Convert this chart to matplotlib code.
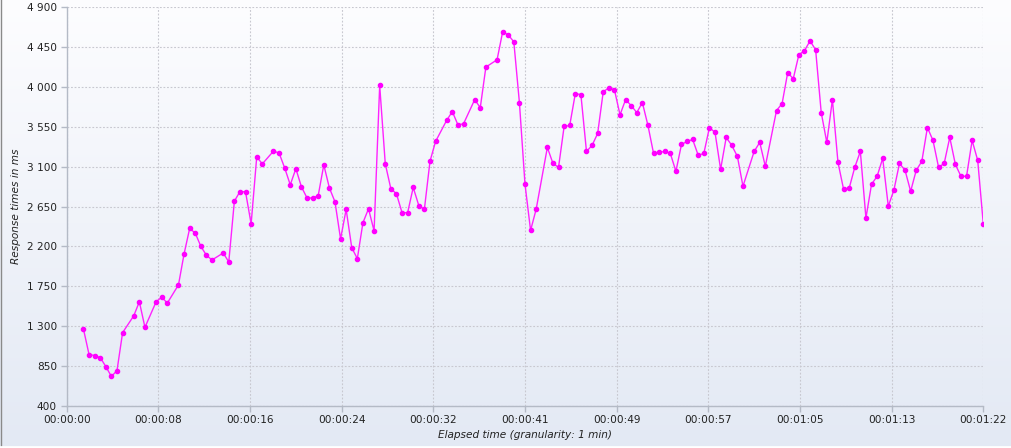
import numpy as np
import matplotlib
matplotlib.use("Agg")
import matplotlib.pyplot as plt
from matplotlib.ticker import FuncFormatter

# elapsed time (s) and response times (ms)
elapsed_s = [
    1.5, 2.0, 2.5, 3.0, 3.5, 4.0, 4.5, 5.0, 6.0, 6.5, 7.0, 8.0, 8.5, 9.0,
    10.0, 10.5, 11.0, 11.5, 12.0, 12.5, 13.0, 14.0, 14.5, 15.0, 15.5, 16.0,
    16.5, 17.0, 17.5, 18.5, 19.0, 19.5, 20.0, 20.5, 21.0, 21.5, 22.0, 22.5,
    23.0, 23.5, 24.0, 24.5, 25.0, 25.5, 26.0, 26.5, 27.0, 27.5, 28.0, 28.5,
    29.0, 29.5, 30.0, 30.5, 31.0, 31.5, 32.0, 32.5, 33.0, 34.0, 34.5, 35.0,
    35.5, 36.5, 37.0, 37.5, 38.5, 39.0, 39.5, 40.0, 40.5, 41.0, 41.5, 42.0,
    43.0, 43.5, 44.0, 44.5, 45.0, 45.5, 46.0, 46.5, 47.0, 47.5, 48.0, 48.5,
    49.0, 49.5, 50.0, 50.5, 51.0, 51.5, 52.0, 52.5, 53.0, 53.5, 54.0, 54.5,
    55.0, 55.5, 56.0, 56.5, 57.0, 57.5, 58.0, 58.5, 59.0, 59.5, 60.0, 60.5,
    61.5, 62.0, 62.5, 63.5, 64.0, 64.5, 65.0, 65.5, 66.0, 66.5, 67.0, 67.5,
    68.0, 68.5, 69.0, 69.5, 70.0, 70.5, 71.0, 71.5, 72.0, 72.5, 73.0, 73.5,
    74.0, 74.5, 75.0, 75.5, 76.0, 76.5, 77.0, 77.5, 78.0, 78.5, 79.0, 79.5,
    80.0, 80.5, 81.0, 81.5, 82.0,
]
response_ms = [
    1265, 978, 967, 944, 842, 730, 797, 1225, 1416, 1574, 1285, 1574, 1626, 1559,
    1765, 2114, 2402, 2350, 2200, 2099, 2046, 2125, 2024, 2710, 2819, 2815,
    2453, 3210, 3131, 3276, 3254, 3086, 2895, 3077, 2872, 2746, 2746, 2773,
    3120, 2860, 2703, 2284, 2617, 2185, 2061, 2466, 2624, 2375, 4018, 3132,
    2850, 2794, 2580, 2580, 2865, 2660, 2620, 3160, 3385, 3625, 3722, 3572,
    3584, 3857, 3767, 4225, 4307, 4622, 4589, 4510, 3824, 2901, 2380, 2620,
    3317, 3137, 3092, 3554, 3565, 3925, 3914, 3272, 3340, 3475, 3947, 3989,
    3970, 3685, 3857, 3790, 3711, 3824, 3565, 3250, 3261, 3272, 3250, 3047,
    3351, 3385, 3407, 3227, 3250, 3542, 3486, 3070, 3430, 3340, 3216, 2879,
    3272, 3374, 3104, 3734, 3812, 4161, 4094, 4364, 4409, 4521, 4420, 3711,
    3374, 3857, 3148, 2845, 2856, 3092, 3272, 2519, 2901, 2991, 3194, 2654,
    2834, 3137, 3059, 2822, 3059, 3160, 3542, 3396, 3092, 3137, 3430, 3126,
    2991, 2991, 3396, 3171, 2452,
]

x_ticks = [0, 8.2, 16.4, 24.6, 32.8, 41.0, 49.2, 57.4, 65.6, 73.8, 82.0]
x_labels = ["00:00:00", "00:00:08", "00:00:16", "00:00:24", "00:00:32", "00:00:41",
            "00:00:49", "00:00:57", "00:01:05", "00:01:13", "00:01:22"]
y_ticks = list(range(400, 4901, 450))

fig = plt.figure(figsize=(10.12, 4.48), dpi=100)

# background gradient over the whole figure
bg = fig.add_axes([0, 0, 1, 1], zorder=-10)
grad = np.linspace(0, 1, 256).reshape(-1, 1)
top = np.array([253, 253, 255]) / 255
bottom = np.array([227, 233, 244]) / 255
img = top + (bottom - top) * grad[:, :, None]
bg.imshow(img, aspect="auto", extent=[0, 1, 0, 1])
bg.axis("off")
fig.add_artist(plt.Line2D([0.0008, 0.0008], [0, 1], color="#8a8a8a", lw=1.0))
fig.add_artist(plt.Line2D([0, 1], [0.003, 0.003], color="white", lw=2))

ax = fig.add_axes([66.7 / 1012, 42.3 / 448, (983.3 - 66.7) / 1012, (405.7 - 7.3) / 448])
ax.patch.set_alpha(0)

ax.plot(elapsed_s, response_ms, color="#ff22ff", lw=1.0, marker="o",
        markersize=3.0, markerfacecolor="#ff00ff", markeredgecolor="#ff00ff")

ax.set_xlim(0, 82)
ax.set_ylim(400, 4900)
ax.set_xticks(x_ticks)
ax.set_xticklabels(x_labels)
ax.set_yticks(y_ticks)
ax.yaxis.set_major_formatter(FuncFormatter(lambda v, p: f"{int(v):,}".replace(",", " ")))

ax.grid(True, color="#c8c8d0", linestyle=(0, (1.6, 1.6)), lw=0.8)
for s in ["top", "right"]:
    ax.spines[s].set_visible(False)
for s in ["left", "bottom"]:
    ax.spines[s].set_color("#b4bac6")
    ax.spines[s].set_linewidth(1.0)
ax.tick_params(colors="#b4bac6", labelcolor="#222222", length=4, width=1,
               labelsize=7.6, pad=3)

ax.set_xlabel("Elapsed time (granularity: 1 min)", fontsize=7.6, style="italic",
              color="#222222", labelpad=3)
ax.set_ylabel("Response times in ms", fontsize=7.6, style="italic",
              color="#222222", labelpad=4)

fig.savefig("out.png", dpi=100)
